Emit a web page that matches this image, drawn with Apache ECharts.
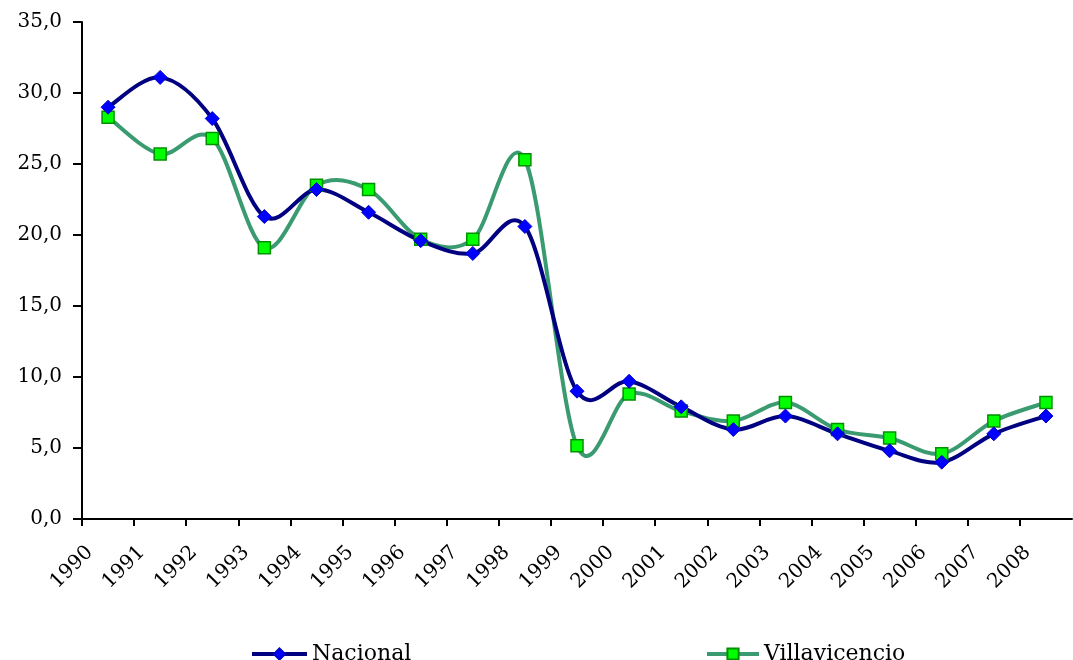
<!DOCTYPE html>
<html>
<head>
<meta charset="utf-8">
<script src="https://cdn.jsdelivr.net/npm/echarts@6/dist/echarts.min.js"></script>
<style>
	html, body { margin: 0; padding: 0; background: #fff; }
	#main { width: 1073px; height: 660px; }
</style>
</head>
<body>
<div id="main"></div>
<script>
	// data
	const years = [1990, 1991, 1992, 1993, 1994, 1995, 1996, 1997, 1998, 1999,
		2000, 2001, 2002, 2003, 2004, 2005, 2006, 2007, 2008];
	const nacional = [29.0, 31.1, 28.2, 21.3, 23.2, 21.6, 19.6, 18.7, 20.6, 9.0,
		9.7, 7.9, 6.3, 7.25, 6.0, 4.8, 4.0, 6.0, 7.25];
	const villavicencio = [28.3, 25.7, 26.8, 19.1, 23.5, 23.2, 19.7, 19.7, 25.3, 5.15,
		8.8, 7.6, 6.9, 8.2, 6.3, 5.7, 4.6, 6.9, 8.2];
	const yTicks = [0, 5, 10, 15, 20, 25, 30, 35];

	const font = "DejaVu Serif";
	const blueLine = "#000080";
	const greenLine = "#3a9a70";
	const lineW = 4;

	// points sit in the middle of each year's band
	const pairs = (vals) => vals.map((v, i) => [years[i] + 0.5, v]);

	// excel-like smoothing: catmull-rom segments drawn between axis coords
	function smoothCurve(vals, color) {
		return function (params, api) {
			let i = params.dataIndex;
			if (i >= vals.length - 1) return null;
			let pt = (k) => {
				k = Math.max(0, Math.min(vals.length - 1, k));
				return api.coord([years[k] + 0.5, vals[k]]);
			};
			let p0 = pt(i - 1), p1 = pt(i), p2 = pt(i + 1), p3 = pt(i + 2);
			return {
				type: "bezierCurve",
				shape: {
					x1: p1[0], y1: p1[1],
					x2: p2[0], y2: p2[1],
					cpx1: p1[0] + (p2[0] - p0[0]) / 6,
					cpy1: p1[1] + (p2[1] - p0[1]) / 6,
					cpx2: p2[0] - (p3[0] - p1[0]) / 6,
					cpy2: p2[1] - (p3[1] - p1[1]) / 6,
				},
				style: { stroke: color, lineWidth: lineW, fill: null, lineCap: "round" },
			};
		};
	}

	let myCharts = echarts.init(document.getElementById("main"));
	let option = {
		animation: false,
		grid: { left: 82, right: 1, top: 22, bottom: 141 },
		legend: [
			{
				left: 245, top: 638,
				itemWidth: 55, itemHeight: 14,
				data: [{ name: "Nacional", lineStyle: { color: blueLine, width: lineW, opacity: 1 } }],
				textStyle: { fontFamily: font, fontSize: 22, color: "#000" },
			},
			{
				left: 700, top: 638,
				itemWidth: 52, itemHeight: 14,
				data: [{ name: "Villavicencio", lineStyle: { color: greenLine, width: lineW, opacity: 1 } }],
				textStyle: { fontFamily: font, fontSize: 22, color: "#000" },
			},
		],
		xAxis: {
			type: "value",
			min: years[0],
			max: years[years.length - 1] + 1,
			interval: 1,
			splitLine: { show: false },
			axisLine: { lineStyle: { color: "#000", width: 2 } },
			axisTick: { show: true, length: 7, lineStyle: { color: "#000", width: 2 } },
			axisLabel: {
				rotate: 45,
				margin: 38,
				padding: [0, -11, 0, 0],
				fontFamily: font,
				fontSize: 20,
				color: "#000",
				showMaxLabel: false,
				formatter: (v) => (years.indexOf(v) >= 0 ? String(v) : ""),
			},
		},
		yAxis: {
			type: "value",
			min: yTicks[0],
			max: yTicks[yTicks.length - 1],
			interval: 5,
			splitLine: { show: false },
			axisLine: { show: true, lineStyle: { color: "#000", width: 2 } },
			axisTick: { show: true, length: 9, lineStyle: { color: "#000", width: 2 } },
			axisLabel: {
				margin: 20,
				fontFamily: font,
				fontSize: 20,
				color: "#000",
				formatter: (v) => v.toFixed(1).replace(".", ","),
			},
		},
		series: [
			{
				name: "curva Villavicencio",
				type: "custom",
				data: pairs(villavicencio),
				encode: { x: 0, y: 1 },
				renderItem: smoothCurve(villavicencio, greenLine),
				z: 1,
				silent: true,
			},
			{
				name: "curva Nacional",
				type: "custom",
				data: pairs(nacional),
				encode: { x: 0, y: 1 },
				renderItem: smoothCurve(nacional, blueLine),
				z: 2,
				silent: true,
			},
			{
				name: "Villavicencio",
				type: "line",
				data: pairs(villavicencio),
				symbol: "rect",
				symbolSize: 12,
				lineStyle: { color: greenLine, width: lineW, opacity: 0 },
				itemStyle: { color: "#00ff00", borderColor: "#009000", borderWidth: 1.5 },
				z: 3,
			},
			{
				name: "Nacional",
				type: "line",
				data: pairs(nacional),
				symbol: "diamond",
				symbolSize: 14,
				lineStyle: { color: blueLine, width: lineW, opacity: 0 },
				itemStyle: { color: "#0000ff", borderColor: "#0000cc", borderWidth: 1 },
				z: 4,
			},
		],
	};
	myCharts.setOption(option);
</script>
</body>
</html>
